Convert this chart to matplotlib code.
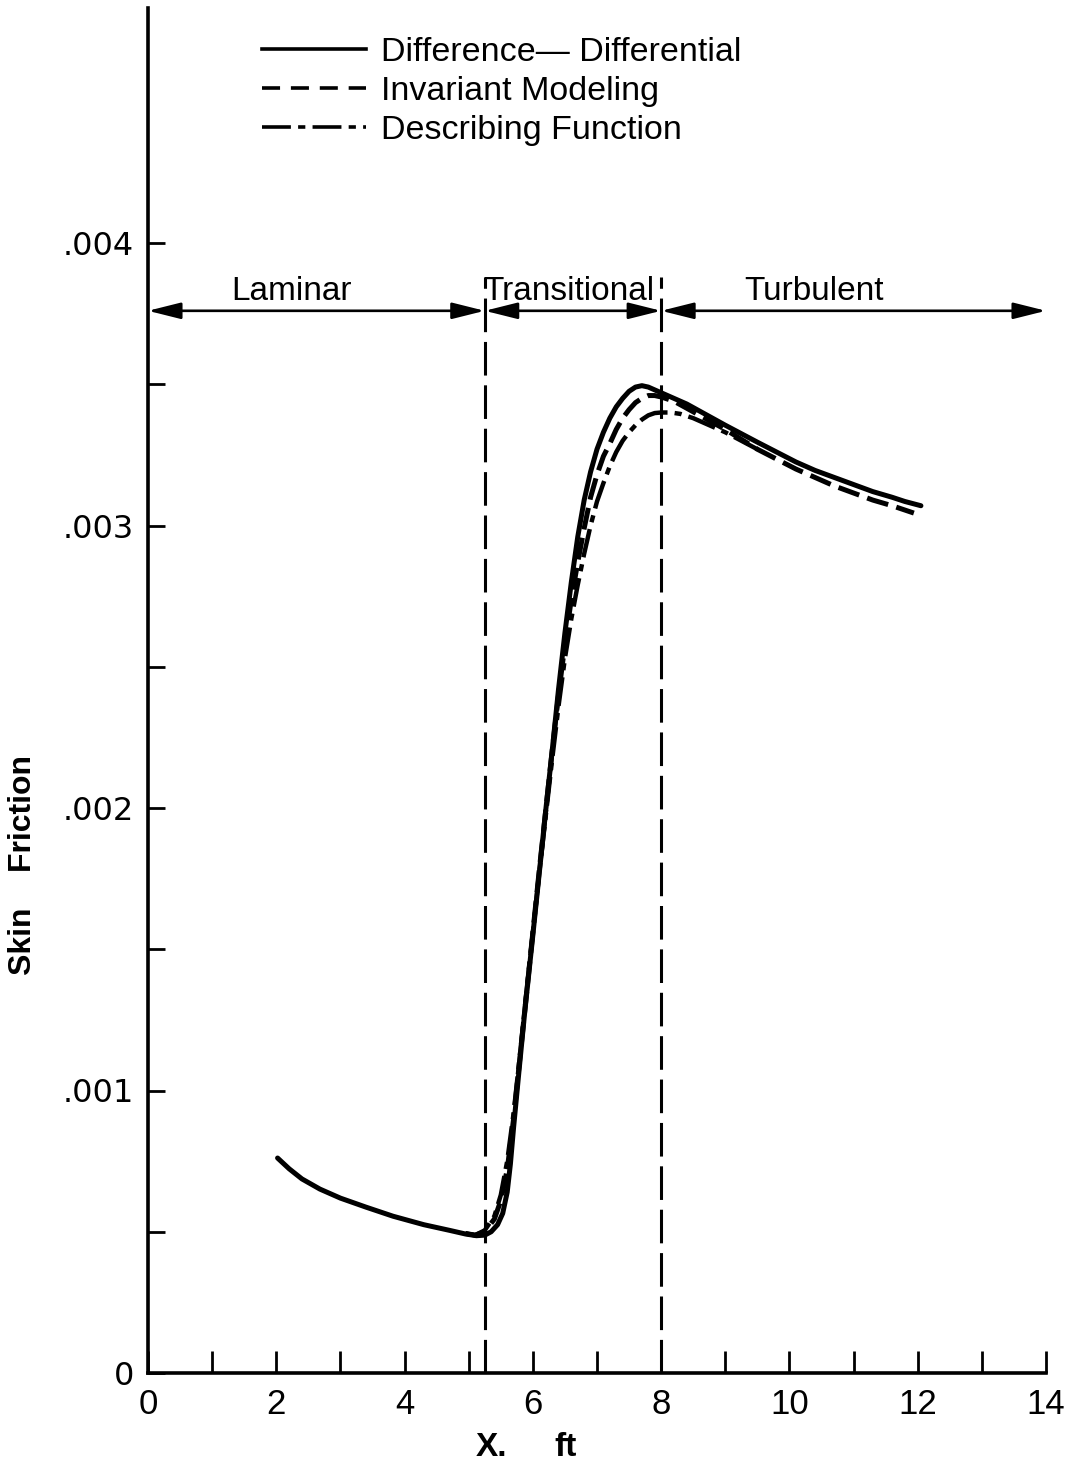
import matplotlib
matplotlib.use("Agg")
import matplotlib.pyplot as plt
from matplotlib.lines import Line2D

plt.rcParams['font.family'] = ['Liberation Sans', 'DejaVu Sans']

# ---- data (x in ft, skin friction) ----
dd_x = [2.02, 2.2, 2.4, 2.68, 3.0, 3.4, 3.82, 4.3, 4.7, 4.95, 5.12, 5.25, 5.35, 5.45,
        5.53, 5.6, 5.65, 5.7, 5.78, 5.87, 6.0, 6.1, 6.2, 6.3, 6.4, 6.5, 6.6, 6.7, 6.8,
        6.9, 7.0, 7.1, 7.2, 7.3, 7.4, 7.5, 7.6, 7.7, 7.8, 7.9, 8.0, 8.2, 8.4, 8.6, 8.8,
        9.0, 9.25, 9.5, 9.8, 10.1, 10.4, 10.7, 11.0, 11.3, 11.6, 11.8, 12.05]
dd_y = [0.000761, 0.000723, 0.000687, 0.000651, 0.000619, 0.000587, 0.000555, 0.000525,
        0.000505, 0.000492, 0.000486, 0.000488, 0.000500, 0.000525, 0.000565, 0.000640,
        0.000740, 0.000870, 0.00106, 0.00127, 0.00155, 0.00177, 0.00199, 0.00220,
        0.00242, 0.00262, 0.00280, 0.00296, 0.00309, 0.00319, 0.00327, 0.00333, 0.00338,
        0.00342, 0.00345, 0.003475, 0.00349, 0.003495, 0.00349, 0.00348, 0.00347,
        0.00345, 0.00343, 0.003405, 0.00338, 0.003355, 0.003325, 0.003295, 0.00326,
        0.003225, 0.003195, 0.00317, 0.003145, 0.00312, 0.00310, 0.003085, 0.00307]

im_x = [4.95, 5.1, 5.25, 5.4, 5.5, 5.6, 5.7, 5.8, 5.9, 6.0, 6.1, 6.2, 6.3, 6.4, 6.5,
        6.6, 6.7, 6.8, 6.9, 7.0, 7.1, 7.2, 7.3, 7.4, 7.5, 7.6, 7.7, 7.8, 7.9, 8.0, 8.2,
        8.4, 8.6, 8.8, 9.0, 9.25, 9.5, 9.8, 10.1, 10.4, 10.7, 11.0, 11.3, 11.6, 11.94]
im_y = [0.000494, 0.000488, 0.000500, 0.000545, 0.000610, 0.000720, 0.000900, 0.00112,
        0.00134, 0.00156, 0.00178, 0.00199, 0.00220, 0.00240, 0.00258, 0.00274, 0.00287,
        0.00299, 0.00310, 0.00318, 0.003245, 0.00329, 0.00334, 0.00338, 0.00341,
        0.003435, 0.00345, 0.00346, 0.00346, 0.003455, 0.00344, 0.003415, 0.00339,
        0.003365, 0.00334, 0.003305, 0.00327, 0.003235, 0.00320, 0.00317, 0.00314,
        0.003115, 0.00309, 0.00307, 0.003044]

df_x = [4.95, 5.1, 5.25, 5.4, 5.5, 5.6, 5.7, 5.8, 5.9, 6.0, 6.1, 6.2, 6.3, 6.4, 6.5,
        6.6, 6.7, 6.8, 6.9, 7.0, 7.1, 7.2, 7.3, 7.4, 7.5, 7.6, 7.7, 7.8, 7.9, 8.0, 8.15,
        8.3, 8.5, 8.75, 9.0, 9.25, 9.5]
df_y = [0.000494, 0.000488, 0.000505, 0.000555, 0.000630, 0.000750, 0.000920, 0.00113,
        0.00135, 0.00156, 0.00177, 0.00197, 0.00217, 0.00236, 0.00253, 0.00267, 0.00279,
        0.00290, 0.00300, 0.003085, 0.00315, 0.00321, 0.00326, 0.00330, 0.00333,
        0.003355, 0.003375, 0.00339, 0.003398, 0.00340, 0.00340, 0.003395, 0.00338,
        0.003355, 0.00333, 0.00330, 0.00327]

series_labels = ["Difference\u2014 Differential", "Invariant Modeling", "Describing Function"]

region_names = ["Laminar", "Transitional", "Turbulent"]
region_bounds = [0.0, 5.25, 8.0, 14.0]
region_label_x = [2.23, 6.56, 10.39]
arrow_y = 0.00376
label_y = 0.003798
bound_top = 0.00388

x_ticks = [0, 2, 4, 6, 8, 10, 12, 14]
y_ticks = [0, 0.001, 0.002, 0.003, 0.004]
y_ticklabels = ["0", ".001", ".002", ".003", ".004"]

# ---- figure ----
W, H = 1068, 1467
fig = plt.figure(figsize=(W / 100, H / 100), dpi=100)
ax = fig.add_axes([148 / W, 1 - 1373 / H, (1046 - 148) / W, (1373 - 8) / H])
ax.set_xlim(0, 14)
ax.set_ylim(0, (1373 - 8) / 282.5 * 0.001)

for s in ['top', 'right']:
    ax.spines[s].set_visible(False)
for s in ['left', 'bottom']:
    ax.spines[s].set_linewidth(2.6)

# curves
ax.plot(dd_x, dd_y, color='black', lw=3.6, solid_capstyle='round',
        solid_joinstyle='round')
l2, = ax.plot(im_x, im_y, color='black', lw=3.6)
l2.set_dashes([4.4, 1.7])
l3, = ax.plot(df_x, df_y, color='black', lw=3.2)
l3.set_dashes([6.5, 1.6, 1.6, 1.6])

# region boundaries
for xb in region_bounds[1:3]:
    vl, = ax.plot([xb, xb], [0, bound_top], color='black', lw=2.2)
    vl.set_dashes([11, 3.2])

# region arrows
for i in range(3):
    ax.annotate('', xy=(region_bounds[i + 1], arrow_y), xytext=(region_bounds[i], arrow_y),
                arrowprops=dict(arrowstyle='<|-|>,head_length=0.8,head_width=0.2',
                                lw=1.9, color='black', shrinkA=0, shrinkB=0,
                                mutation_scale=25))
    ax.text(region_label_x[i], label_y, region_names[i], ha='center', va='baseline',
            fontsize=24)

# ticks
ax.set_xticks(x_ticks)
ax.set_xticks(range(0, 15), minor=True)
ax.set_xticklabels([str(v) for v in x_ticks])
ax.set_yticks(y_ticks)
ax.set_yticks([0.0005 * k for k in range(9)], minor=True)
ax.set_yticklabels(y_ticklabels, family='DejaVu Sans')
ax.tick_params(axis='x', which='both', direction='in', length=16, width=2, pad=11,
               labelsize=25)
ax.tick_params(axis='y', which='both', direction='in', length=12, width=2, pad=10,
               labelsize=23)

# axis labels
fig.text(491 / W, 1 - 1447 / H, "X.", ha='center', va='center', fontsize=24,
         fontweight='bold')
fig.text(566 / W, 1 - 1447 / H, "ft", ha='center', va='center', fontsize=24,
         fontweight='bold')
fig.text(23 / W, 1 - 865 / H, "Skin    Friction", ha='center', va='center', fontsize=23,
         fontweight='bold', rotation=90)

# legend
h1 = Line2D([], [], color='black', lw=2.6)
h2 = Line2D([], [], color='black', lw=2.6, dashes=[5, 3])
h3 = Line2D([], [], color='black', lw=2.6, dashes=[8, 2, 2, 2])
fig.legend([h1, h2, h3], series_labels, loc='upper left',
           bbox_to_anchor=(262 / W, 1 - 37 / H), frameon=False, fontsize=24.5,
           handlelength=3.05, handletextpad=0.45, labelspacing=0.24, borderpad=0,
           borderaxespad=0)

fig.savefig("out.png", dpi=100)
